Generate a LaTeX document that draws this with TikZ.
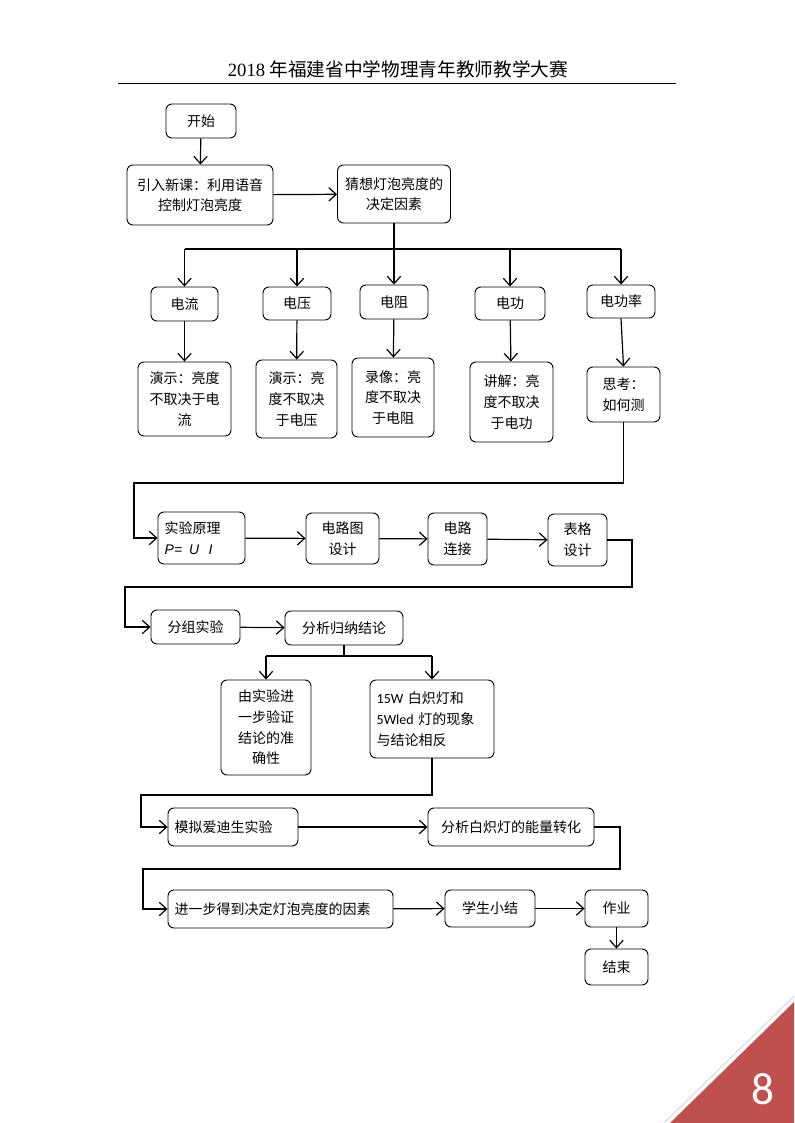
\documentclass[tikz,border=0pt]{standalone}
\usepackage{fontspec}
\setmainfont{Noto Sans CJK SC}
\newfontfamily\latinserif{Liberation Serif}
\newfontfamily\latinsans{Liberation Sans}
\newfontfamily\carlito{Carlito}
\usetikzlibrary{arrows.meta,positioning,calc}
\definecolor{cornerred}{RGB}{192,80,77}
\newcommand{\boxfont}{\fontsize{10.5pt}{15.5pt}\selectfont}
\tikzset{
    box/.style={rectangle, rounded corners=4.5pt, draw=black, line width=0.7pt, align=center, font=\boxfont, inner sep=2pt},
    boxL/.style={box, align=left, inner xsep=5pt},
    dims/.style 2 args={minimum width=#1*0.75pt, minimum height=#2*0.75pt},
    flow/.style={line width=0.9pt, -{Straight Barb[length=5.5pt,width=10pt,line width=0.9pt]}},
    bar/.style={line width=0.9pt},
}

\begin{document}
\begin{tikzpicture}[x=0.75pt, y=-0.75pt]
    \useasboundingbox (0,0) rectangle (794,1123);
    \fill[white] (0,0) rectangle (794,1123);

    % Header
    \node[font=\fontsize{14pt}{16pt}\selectfont] (title) at (398,69) {{\latinserif 2018} 年福建省中学物理青年教师教学大赛};
    \draw[line width=0.6pt] (118,83) -- (676,83);

    % Opening
    \node[box, dims={70}{34}] (start) at (201,121) {开始};
    \node[box, dims={146}{60}] (intro) at (200,195) {引入新课：利用语音\\控制灯泡亮度};
    \node[box, dims={113}{58}] (guess) at (394,194) {猜想灯泡亮度的\\决定因素};

    % Candidate factors
    \node[box, dims={67}{34}] (cur) at (184.5,304) {电流};
    \node[box, dims={68}{33}] (vol) at (297,303.5) {电压};
    \node[box, dims={68}{34}] (res) at (394,302) {电阻};
    \node[box, dims={70}{33}] (work) at (510,303.5) {电功};
    \node[box, dims={68}{33}] (power) at (621,301.5) {电功率};

    \node[box, dims={93}{74}] (demoI) at (184.5,399) {演示：亮度\\不取决于电\\流};
    \node[box, dims={81}{78}] (demoU) at (296.5,399) {演示：亮\\度不取决\\于电压};
    \node[box, dims={82}{79}] (video) at (393,397.5) {录像：亮\\度不取决\\于电阻};
    \node[box, dims={83}{80}] (lecture) at (511.5,402) {讲解：亮\\度不取决\\于电功};
    \node[box, dims={73}{55}] (think) at (623.5,394.5) {思考：\\如何测};

    % Experiment
    \node[boxL, text width=55.25pt, minimum height=39pt] (principle) at (201.5,538) {实验原理\\{\latinsans\itshape P=\,\ U\ \ I}};
    \node[box, dims={73}{51}] (circuit) at (342.5,538.5) {电路图\\设计};
    \node[box, dims={59}{52}] (connect) at (457.5,539) {电路\\连接};
    \node[box, dims={59}{52}] (table) at (577.5,540) {表格\\设计};

    \node[box, dims={89}{34}] (group) at (195.5,627) {分组实验};
    \node[box, dims={118}{34}] (analyse) at (344,628) {分析归纳结论};

    \node[box, dims={90}{95}] (verify) at (266,727.5) {由实验进\\一步验证\\结论的准\\确性};
    \node[boxL, text width=83pt, minimum height=58.5pt] (contra) at (432,719) {{\carlito 15W} 白炽灯和\\{\carlito 5Wled} 灯的现象\\与结论相反};

    % Edison and wrap-up
    \node[boxL, text width=87.5pt, minimum height=28.5pt] (edison) at (233,827) {模拟爱迪生实验};
    \node[box, dims={166}{38}] (energy) at (511,827) {分析白炽灯的能量转化};

    \node[boxL, text width=158.75pt, minimum height=28.5pt] (further) at (280.5,909) {进一步得到决定灯泡亮度的因素};
    \node[box, dims={90}{37}] (summary) at (490,908.5) {学生小结};
    \node[box, dims={63}{37}] (homework) at (616.5,908.5) {作业};
    \node[box, dims={63}{36}] (finish) at (616.5,967) {结束};

    % Turning points
    \coordinate (bus) at (0,249);
    \coordinate (split) at (0,656);
    \coordinate (turnA) at (134,483);
    \coordinate (turnB) at (632,587);
    \coordinate (turnC) at (125,587);
    \coordinate (turnD) at (141,795);
    \coordinate (turnE) at (620,869);
    \coordinate (turnF) at (143,869);

    % Connections
    \draw[flow] (start) -- (intro);
    \draw[flow] (intro) -- (guess);
    \draw[bar] (guess.south) -- (guess.south |- bus);
    \draw[bar] (cur.north |- bus) -- (power.north |- bus);
    \foreach \n in {cur, vol, res, work, power}
        \draw[flow] (\n.north |- bus) -- (\n.north);
    \draw[flow] (cur) -- (demoI);
    \draw[flow] (vol) -- (demoU);
    \draw[flow] (res) -- (video);
    \draw[flow] (work) -- (lecture);
    \draw[flow] (power.south) -- (think.north);

    \draw[flow] (think.south) -- (think.south |- turnA) -- (turnA) |- (principle.west);
    \draw[flow] (principle) -- (circuit);
    \draw[flow] (circuit) -- (connect);
    \draw[flow] (connect) -- (table);
    \draw[flow] (table.east) -| (turnB) -- (turnC) |- (group.west);
    \draw[flow] (group) -- (analyse);

    \draw[bar] (analyse.south) -- (analyse.south |- split);
    \draw[bar] (verify.north |- split) -- (contra.north |- split);
    \draw[flow] (verify.north |- split) -- (verify.north);
    \draw[flow] (contra.north |- split) -- (contra.north);

    \draw[flow] (contra.south) |- (turnD) |- (edison.west);
    \draw[flow] (edison) -- (energy);
    \draw[flow] (energy.east) -| (turnE) -- (turnF) |- (further.west);
    \draw[flow] (further) -- (summary);
    \draw[flow] (summary) -- (homework);
    \draw[flow] (homework) -- (finish);

    % Page corner
    \draw[gray!20, line width=1.2pt] (664,1123) -- (794,996);
    \fill[cornerred] (670,1123) -- (794,1002) -- (794,1123) -- cycle;
    \node[text=white, font=\carlito\fontsize{34pt}{34pt}\selectfont] (pagenum) at (763,1089) {8};
\end{tikzpicture}
\end{document}
